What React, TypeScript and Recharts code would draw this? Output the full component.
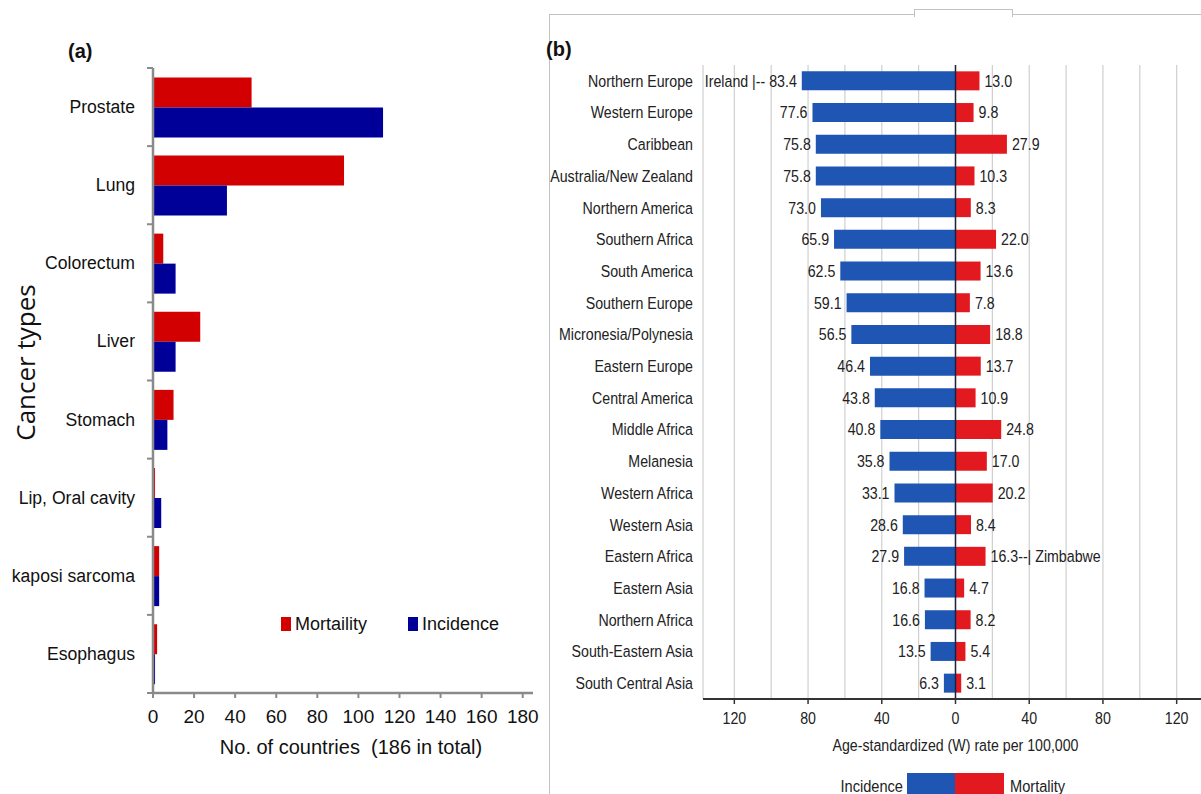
import React from 'react';
import {
  BarChart,
  Bar,
  XAxis,
  YAxis,
  CartesianGrid,
  Legend,
  LabelList,
  ReferenceLine,
  Label,
} from 'recharts';

// (a) leading cancer type, counted in countries
const cancerTypes = [
  'Prostate',
  'Lung',
  'Colorectum',
  'Liver',
  'Stomach',
  'Lip, Oral cavity',
  'kaposi sarcoma',
  'Esophagus',
];
const mortalityCounts = [48, 93, 5, 23, 10, 1, 3, 2];
const incidenceCounts = [112, 36, 11, 11, 7, 4, 3, 1];
const countTicks = [0, 20, 40, 60, 80, 100, 120, 140, 160, 180];
const countLegendOrder = ['Mortaility', 'Incidence'];

// (b) age-standardized rates per 100,000 by world region
const regions = [
  'Northern Europe',
  'Western Europe',
  'Caribbean',
  'Australia/New Zealand',
  'Northern America',
  'Southern Africa',
  'South America',
  'Southern Europe',
  'Micronesia/Polynesia',
  'Eastern Europe',
  'Central America',
  'Middle Africa',
  'Melanesia',
  'Western Africa',
  'Western Asia',
  'Eastern Africa',
  'Eastern Asia',
  'Northern Africa',
  'South-Eastern Asia',
  'South Central Asia',
];
const incidenceRates = [
  83.4, 77.6, 75.8, 75.8, 73.0, 65.9, 62.5, 59.1, 56.5, 46.4,
  43.8, 40.8, 35.8, 33.1, 28.6, 27.9, 16.8, 16.6, 13.5, 6.3,
];
const mortalityRates = [
  13.0, 9.8, 27.9, 10.3, 8.3, 22.0, 13.6, 7.8, 18.8, 13.7,
  10.9, 24.8, 17.0, 20.2, 8.4, 16.3, 4.7, 8.2, 5.4, 3.1,
];
const rateTicks = [-120, -100, -80, -60, -40, -20, 0, 20, 40, 60, 80, 100, 120];
const rateLegendOrder = ['Incidence', 'Mortality'];
const callouts = [
  { region: 'Northern Europe', series: 'incidence', country: 'Ireland' },
  { region: 'Eastern Africa', series: 'mortality', country: 'Zimbabwe' },
];

const countData = cancerTypes.map((type, i) => ({
  type,
  mortality: mortalityCounts[i],
  incidence: incidenceCounts[i],
}));

// incidence goes to the left of zero
const rateData = regions.map((region, i) => ({
  region,
  incidence: -incidenceRates[i],
  mortality: mortalityRates[i],
}));

const SANS = "'Liberation Sans', Arial, sans-serif";

const A_RED = '#d20000';
const A_BLUE = '#000099';
const B_BLUE = '#1f56b3';
const B_RED = '#e2191f';
const AXIS_GREY = '#8a8a8a';
const FRAME_GREY = '#c2c2c2';

// panel (a) layout
const A_W = 545;
const A_H = 780;
const A_TOP = 68;
const A_AXIS_W = 153;
const A_XAXIS_H = A_H - 693;
const A_PLOT_H = A_H - A_TOP - A_XAXIS_H;

// panel (b) layout
const B_LEFT = 548;
const B_W = 670;
const B_H = 794;
const B_TOP = 65;
const B_AXIS_W = 155;
const B_XAXIS_H = B_H - 699;
const B_AXIS_Y = B_H - B_XAXIS_H;
const B_FONT = 14.2;
const B_STRETCH = 1.18; // panel (b) lettering is drawn a little taller than wide

function byOrder(order: string[]) {
  return (a: any, b: any) => order.indexOf(a.value) - order.indexOf(b.value);
}

function TallText({ x, y, anchor, children }: any) {
  return (
    <text
      transform={`translate(${x} ${y}) scale(1 ${B_STRETCH})`}
      x={0}
      y={0}
      textAnchor={anchor}
      dominantBaseline="central"
      fontSize={B_FONT}
      fontFamily={SANS}
      fill="#222"
    >
      {children}
    </text>
  );
}

function CancerTick(props: any) {
  const { y, payload, index } = props;
  const band = A_PLOT_H / cancerTypes.length;
  const top = y - band / 2;
  const bottom = y + band / 2;
  return (
    <g>
      <line x1={A_AXIS_W - 6} x2={A_AXIS_W} y1={top} y2={top} stroke={AXIS_GREY} strokeWidth={2} />
      {index === cancerTypes.length - 1 && (
        <line x1={A_AXIS_W - 6} x2={A_AXIS_W} y1={bottom} y2={bottom} stroke={AXIS_GREY} strokeWidth={2} />
      )}
      <text
        x={A_AXIS_W - 18}
        y={y}
        textAnchor="end"
        dominantBaseline="central"
        fontSize={17.6}
        fontFamily={SANS}
        fill="#111"
      >
        {payload.value}
      </text>
    </g>
  );
}

function CountLegend({ payload }: any) {
  const items = [...(payload || [])].sort(byOrder(countLegendOrder));
  return (
    <div style={{ display: 'flex', fontFamily: SANS, fontSize: 18, color: '#111', lineHeight: '20px' }}>
      {items.map((item: any, i: number) => (
        <div key={item.value} style={{ display: 'flex', alignItems: 'center', marginRight: i === 0 ? 41 : 0 }}>
          <span style={{ display: 'inline-block', width: 10, height: 14, background: item.color, marginRight: 4 }} />
          {item.value}
        </div>
      ))}
    </div>
  );
}

function CountsPanel() {
  return (
    <BarChart
      width={A_W}
      height={A_H}
      data={countData}
      layout="vertical"
      margin={{ top: A_TOP, right: 12, bottom: 0, left: 0 }}
      barCategoryGap="12%"
      barGap={0}
    >
      <XAxis
        type="number"
        domain={[0, 185]}
        ticks={countTicks}
        height={A_XAXIS_H}
        tickSize={5}
        tickMargin={12}
        tick={{ fontSize: 19, fill: '#111', fontFamily: SANS }}
        tickLine={{ stroke: AXIS_GREY, strokeWidth: 2 }}
        axisLine={{ stroke: AXIS_GREY, strokeWidth: 2.5 }}
      >
        <Label
          content={({ viewBox }: any) => (
            <text
              x={viewBox.x + viewBox.width / 2 + 8}
              y={viewBox.y + 54}
              textAnchor="middle"
              dominantBaseline="central"
              fontSize={20}
              fontFamily={SANS}
              fill="#111"
            >
              {'No. of countries\u00a0 (186 in total)'}
            </text>
          )}
        />
      </XAxis>
      <XAxis
        xAxisId="top"
        orientation="top"
        type="number"
        domain={[0, 185]}
        height={0}
        tick={false}
        tickLine={false}
        axisLine={{ stroke: FRAME_GREY, strokeWidth: 2 }}
      />
      <YAxis
        type="category"
        dataKey="type"
        width={A_AXIS_W}
        tickLine={false}
        tick={<CancerTick />}
        axisLine={{ stroke: AXIS_GREY, strokeWidth: 2.5 }}
      >
        <Label
          content={({ viewBox }: any) => {
            const cx = viewBox.x + 25;
            const cy = viewBox.y + viewBox.height / 2 - 18;
            return (
              <text
                x={cx}
                y={cy}
                transform={`rotate(-90 ${cx} ${cy})`}
                textAnchor="middle"
                dominantBaseline="central"
                fontSize={26}
                fontFamily="'Open Sans', sans-serif"
                fill="#111"
              >
                Cancer types
              </text>
            );
          }}
        />
      </YAxis>
      <YAxis
        yAxisId="right"
        orientation="right"
        type="category"
        dataKey="type"
        width={0}
        tick={false}
        tickLine={false}
        axisLine={{ stroke: FRAME_GREY, strokeWidth: 2 }}
      />
      <Legend
        layout="horizontal"
        align="center"
        verticalAlign="middle"
        content={<CountLegend />}
        wrapperStyle={{ left: 281, top: 614, width: 'auto' }}
      />
      <Bar dataKey="mortality" name="Mortaility" fill={A_RED} isAnimationActive={false} />
      <Bar dataKey="incidence" name="Incidence" fill={A_BLUE} isAnimationActive={false} />
    </BarChart>
  );
}

function RegionTick(props: any) {
  const { x, y, payload } = props;
  return <TallText x={x} y={y} anchor="end">{payload.value}</TallText>;
}

function RateTick(props: any) {
  const { x, payload } = props;
  if (payload.value % 40 !== 0) return <g />;
  return (
    <g>
      <line x1={x} x2={x} y1={B_AXIS_Y} y2={B_AXIS_Y + 5} stroke="#333" strokeWidth={1.5} />
      <TallText x={x} y={B_AXIS_Y + 19} anchor="middle">
        {Math.abs(payload.value)}
      </TallText>
    </g>
  );
}

function rateLabel(series: 'incidence' | 'mortality') {
  return (props: any) => {
    const box = props.viewBox ?? props;
    const x = Number(box.x);
    const w = Number(box.width);
    const mid = Number(box.y) + Number(box.height) / 2;
    const left = Math.min(x, x + w);
    const right = Math.max(x, x + w);
    const text = Math.abs(Number(props.value)).toFixed(1);
    const callout = callouts.find((c) => c.series === series && c.region === regions[props.index]);
    if (series === 'incidence') {
      return (
        <TallText x={left - 5} y={mid} anchor="end">
          {callout ? `${callout.country} |-- ${text}` : text}
        </TallText>
      );
    }
    return (
      <TallText x={right + 5} y={mid} anchor="start">
        {callout ? `${text}--| ${callout.country}` : text}
      </TallText>
    );
  };
}

function RateLegend({ payload }: any) {
  const items = [...(payload || [])].sort(byOrder(rateLegendOrder));
  if (items.length < 2) return null;
  const textStyle = { lineHeight: '26px', display: 'inline-block', transform: `scaleY(${B_STRETCH})` };
  return (
    <div style={{ display: 'flex', alignItems: 'flex-start', fontFamily: SANS, fontSize: B_FONT + 0.4, color: '#222' }}>
      <span style={{ ...textStyle, width: 80, textAlign: 'right', marginRight: 4 }}>{items[0].value}</span>
      <span style={{ width: 48, height: 30, background: items[0].color }} />
      <span style={{ width: 49, height: 30, background: items[1].color }} />
      <span style={{ ...textStyle, marginLeft: 6 }}>{items[1].value}</span>
    </div>
  );
}

function RatesPanel() {
  return (
    <BarChart
      width={B_W}
      height={B_H}
      data={rateData}
      layout="vertical"
      stackOffset="sign"
      margin={{ top: B_TOP, right: 10, bottom: 0, left: 0 }}
      barCategoryGap="20%"
    >
      <CartesianGrid horizontal={false} stroke="#cfcfcf" strokeWidth={1.2} />
      <XAxis
        type="number"
        domain={[-137, 137]}
        ticks={rateTicks}
        height={B_XAXIS_H}
        tickLine={false}
        tick={<RateTick />}
        axisLine={{ stroke: '#333', strokeWidth: 2 }}
      >
        <Label
          content={({ viewBox }: any) => (
            <TallText x={viewBox.x + viewBox.width / 2} y={viewBox.y + 46} anchor="middle">
              Age-standardized (W) rate per 100,000
            </TallText>
          )}
        />
      </XAxis>
      <YAxis
        type="category"
        dataKey="region"
        width={B_AXIS_W}
        axisLine={false}
        tickLine={false}
        tickMargin={4}
        tick={<RegionTick />}
      />
      <Legend
        layout="horizontal"
        align="center"
        verticalAlign="middle"
        content={<RateLegend />}
        wrapperStyle={{ left: 275, top: 773, width: 'auto' }}
      />
      <Bar dataKey="incidence" name="Incidence" stackId="rate" fill={B_BLUE} isAnimationActive={false}>
        <LabelList dataKey="incidence" content={rateLabel('incidence')} />
      </Bar>
      <Bar dataKey="mortality" name="Mortality" stackId="rate" fill={B_RED} isAnimationActive={false}>
        <LabelList dataKey="mortality" content={rateLabel('mortality')} />
      </Bar>
      <ReferenceLine x={0} stroke="#1c2340" strokeWidth={1.5} />
    </BarChart>
  );
}

export default function App() {
  return (
    <div
      style={{
        position: 'fixed',
        left: 0,
        top: 0,
        width: 1201,
        height: 794,
        overflow: 'hidden',
        background: '#fff',
      }}
    >
      <div style={{ position: 'absolute', left: 0, top: 0 }}>
        <CountsPanel />
      </div>
      <div
        style={{
          position: 'absolute',
          left: 68,
          top: 40,
          fontFamily: SANS,
          fontWeight: 'bold',
          fontSize: 20,
          color: '#111',
        }}
      >
        (a)
      </div>

      {/* frame around panel (b) */}
      <div
        style={{
          position: 'absolute',
          left: 549,
          top: 14,
          width: 700,
          height: 800,
          borderTop: `1.5px solid ${FRAME_GREY}`,
          borderLeft: `1.5px solid ${FRAME_GREY}`,
        }}
      />
      <div
        style={{
          position: 'absolute',
          left: 914,
          top: 9,
          width: 97,
          height: 7,
          background: '#fff',
          borderTop: `1.5px solid ${FRAME_GREY}`,
          borderLeft: `1.5px solid ${FRAME_GREY}`,
          borderRight: `1.5px solid ${FRAME_GREY}`,
        }}
      />
      <div style={{ position: 'absolute', left: B_LEFT, top: 0 }}>
        <RatesPanel />
      </div>
      <div
        style={{
          position: 'absolute',
          left: 546,
          top: 38,
          fontFamily: SANS,
          fontWeight: 'bold',
          fontSize: 20,
          color: '#111',
        }}
      >
        (b)
      </div>
    </div>
  );
}
